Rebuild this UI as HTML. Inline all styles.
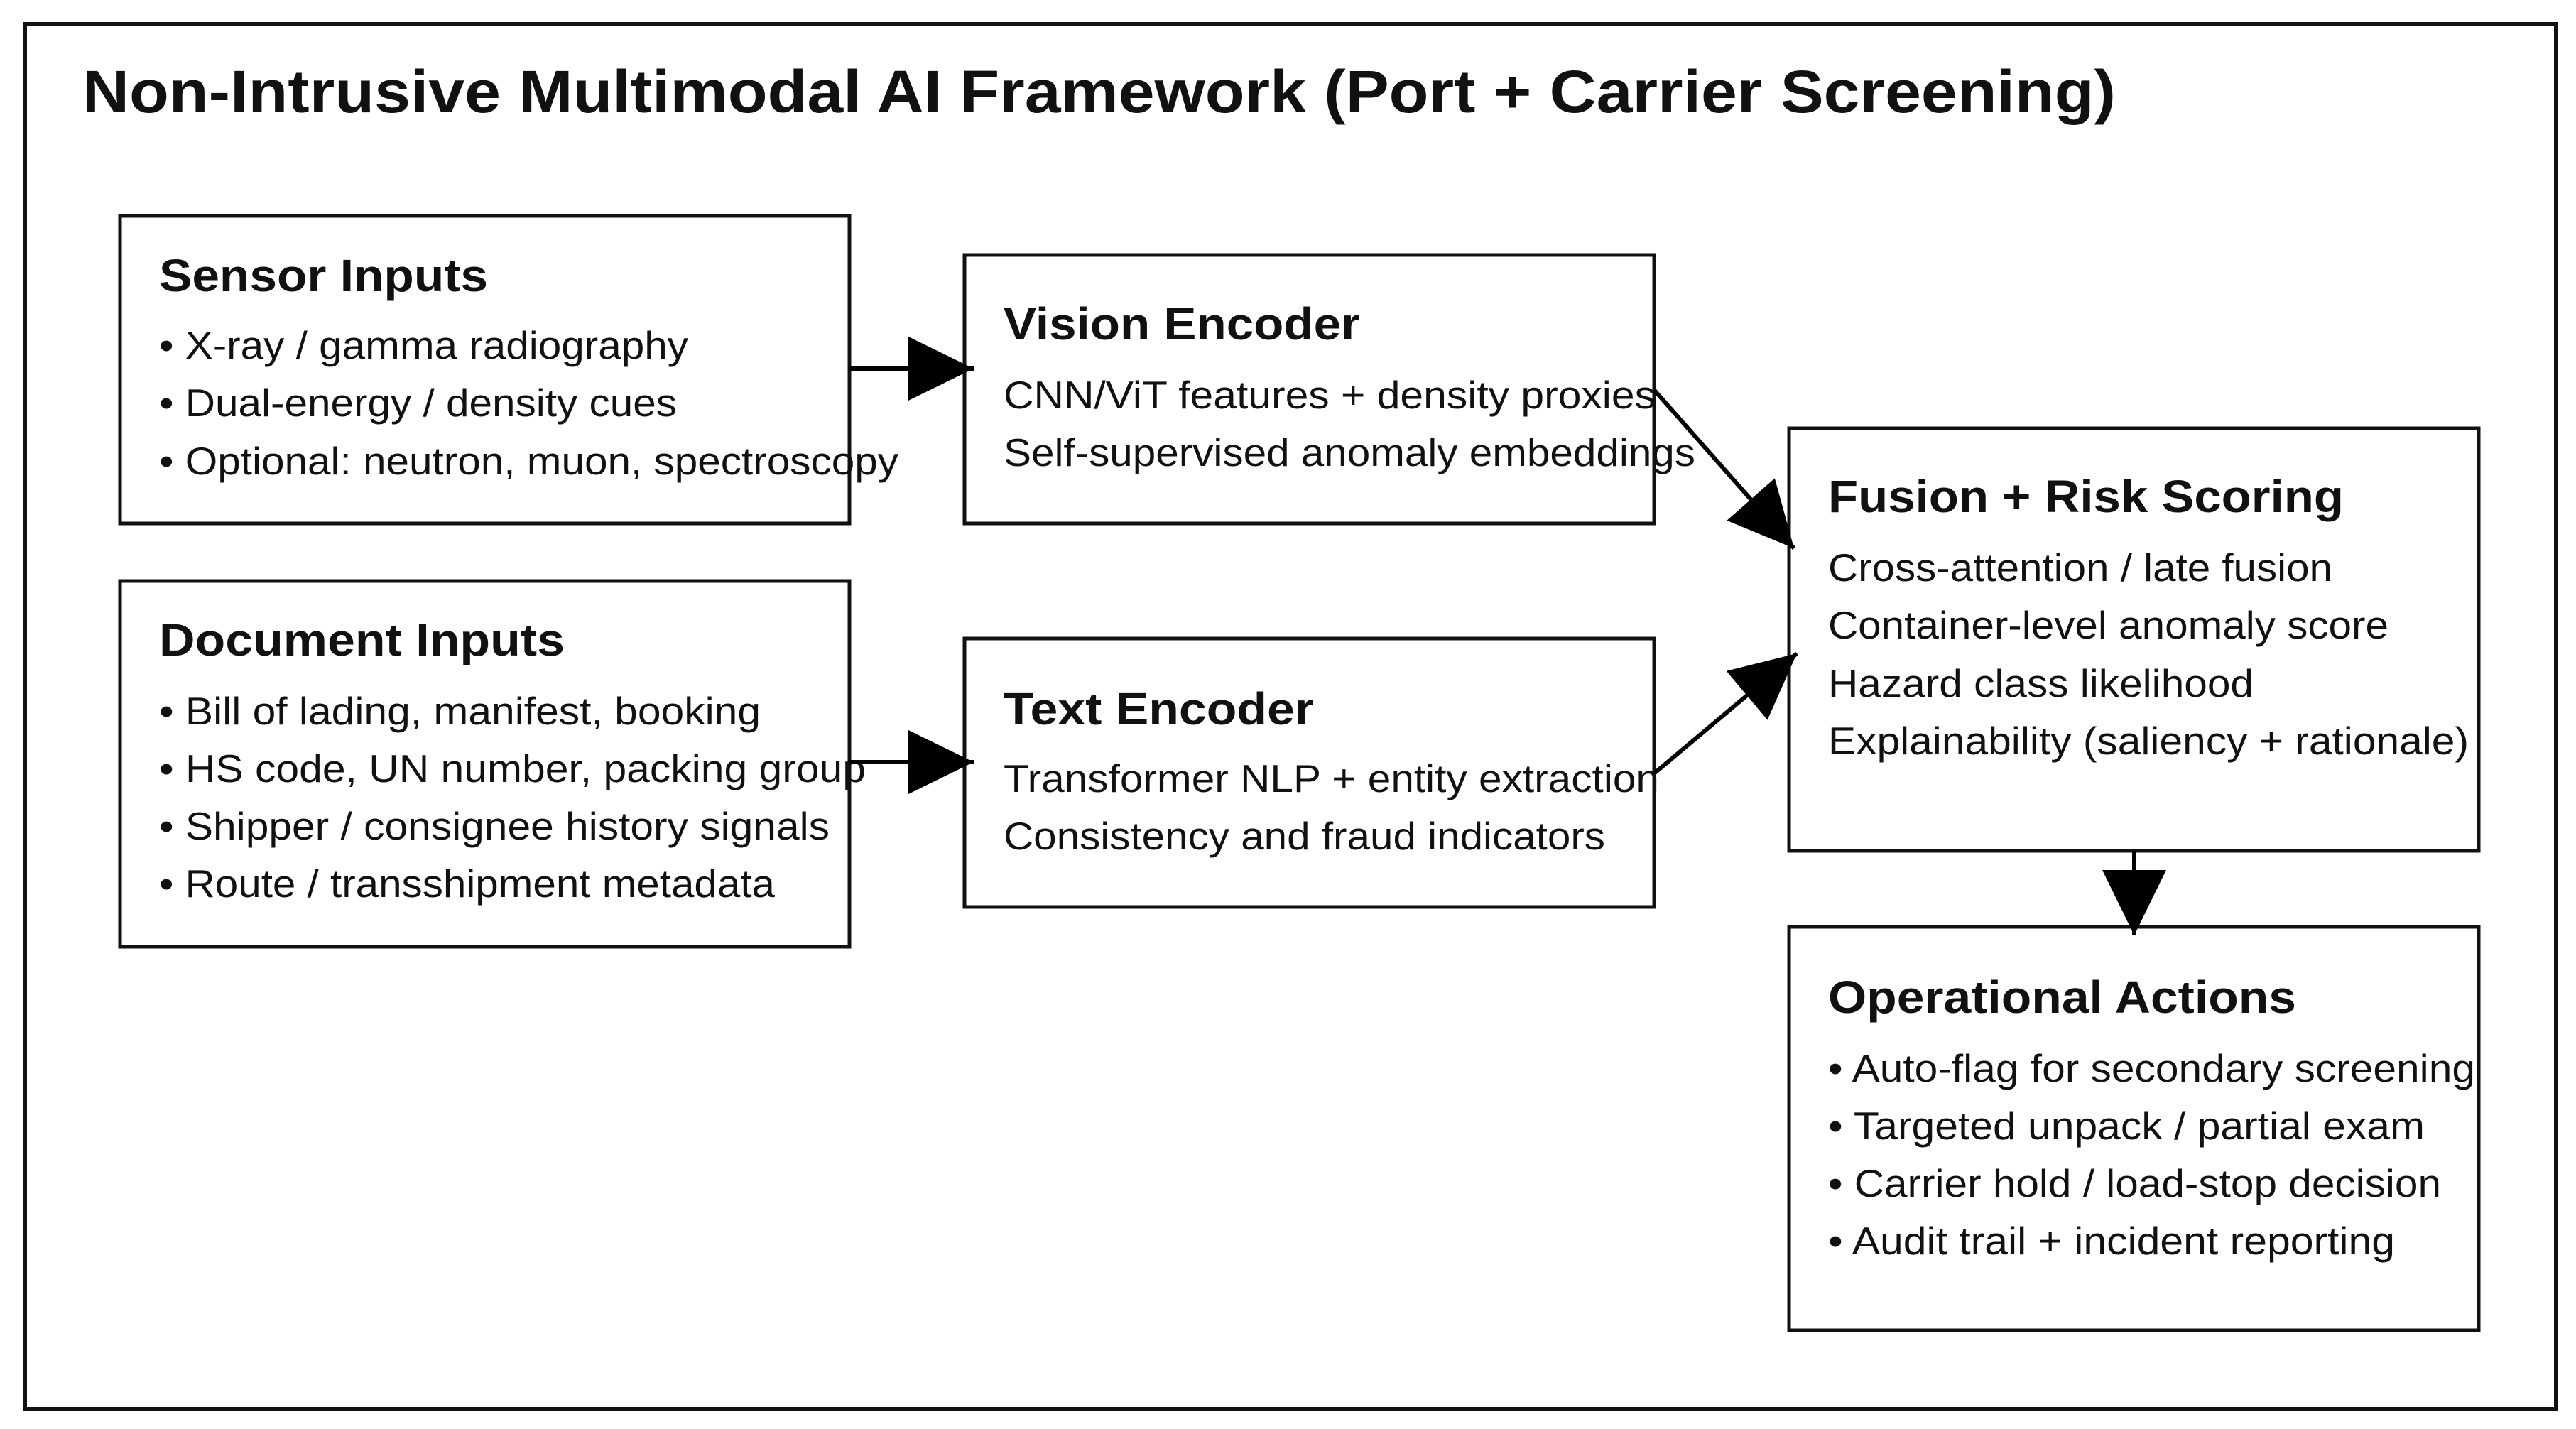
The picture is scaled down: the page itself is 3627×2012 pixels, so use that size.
<!DOCTYPE html>
<html><head><meta charset="utf-8"><style>
html,body{margin:0;padding:0;background:#fff;}
svg{display:block;}
text{font-family:"Liberation Sans",Arial,sans-serif;fill:#111;}
.h{font-weight:bold;font-size:64px;}
.b{font-size:55px;}
</style></head><body>
<svg width="3627" height="2012" viewBox="0 0 3627 2012" xmlns="http://www.w3.org/2000/svg">
<defs>
<marker id="a" markerUnits="userSpaceOnUse" markerWidth="92" markerHeight="90" refX="92" refY="45" orient="auto">
<path d="M0,0 L92,45 L0,90 Z" fill="#000"/>
</marker>
</defs>
<rect x="35" y="34" width="3564" height="1950" fill="#fff" stroke="#111" stroke-width="6"/>
<text x="116" y="158" font-weight="bold" font-size="84" textLength="2863" lengthAdjust="spacingAndGlyphs">Non-Intrusive Multimodal AI Framework (Port + Carrier Screening)</text>

<g fill="none" stroke="#111" stroke-width="5">
<rect x="169" y="304" width="1027" height="433"/>
<rect x="169" y="818" width="1027" height="515"/>
<rect x="1358" y="359" width="971" height="378"/>
<rect x="1358" y="899" width="971" height="378"/>
<rect x="2519" y="603" width="971" height="595"/>
<rect x="2519" y="1305" width="971" height="568"/>
</g>

<text class="h" x="224" y="410" textLength="463" lengthAdjust="spacingAndGlyphs">Sensor Inputs</text>
<text class="b" x="224" y="505" textLength="745" lengthAdjust="spacingAndGlyphs">• X-ray / gamma radiography</text>
<text class="b" x="224" y="586" textLength="729" lengthAdjust="spacingAndGlyphs">• Dual-energy / density cues</text>
<text class="b" x="224" y="668" textLength="1041" lengthAdjust="spacingAndGlyphs">• Optional: neutron, muon, spectroscopy</text>

<text class="h" x="224" y="923" textLength="571" lengthAdjust="spacingAndGlyphs">Document Inputs</text>
<text class="b" x="224" y="1020" textLength="847" lengthAdjust="spacingAndGlyphs">• Bill of lading, manifest, booking</text>
<text class="b" x="224" y="1101" textLength="995" lengthAdjust="spacingAndGlyphs">• HS code, UN number, packing group</text>
<text class="b" x="224" y="1182" textLength="944" lengthAdjust="spacingAndGlyphs">• Shipper / consignee history signals</text>
<text class="b" x="224" y="1263" textLength="867" lengthAdjust="spacingAndGlyphs">• Route / transshipment metadata</text>

<text class="h" x="1413" y="478" textLength="502" lengthAdjust="spacingAndGlyphs">Vision Encoder</text>
<text class="b" x="1413" y="575" textLength="918" lengthAdjust="spacingAndGlyphs">CNN/ViT features + density proxies</text>
<text class="b" x="1413" y="656" textLength="974" lengthAdjust="spacingAndGlyphs">Self-supervised anomaly embeddings</text>

<text class="h" x="1413" y="1020" textLength="437" lengthAdjust="spacingAndGlyphs">Text Encoder</text>
<text class="b" x="1413" y="1115" textLength="923" lengthAdjust="spacingAndGlyphs">Transformer NLP + entity extraction</text>
<text class="b" x="1413" y="1196" textLength="847" lengthAdjust="spacingAndGlyphs">Consistency and fraud indicators</text>

<text class="h" x="2574" y="721" textLength="726" lengthAdjust="spacingAndGlyphs">Fusion + Risk Scoring</text>
<text class="b" x="2574" y="818" textLength="710" lengthAdjust="spacingAndGlyphs">Cross-attention / late fusion</text>
<text class="b" x="2574" y="899" textLength="789" lengthAdjust="spacingAndGlyphs">Container-level anomaly score</text>
<text class="b" x="2574" y="981" textLength="599" lengthAdjust="spacingAndGlyphs">Hazard class likelihood</text>
<text class="b" x="2574" y="1062" textLength="902" lengthAdjust="spacingAndGlyphs">Explainability (saliency + rationale)</text>

<text class="h" x="2574" y="1426" textLength="659" lengthAdjust="spacingAndGlyphs">Operational Actions</text>
<text class="b" x="2574" y="1523" textLength="911" lengthAdjust="spacingAndGlyphs">• Auto-flag for secondary screening</text>
<text class="b" x="2574" y="1604" textLength="840" lengthAdjust="spacingAndGlyphs">• Targeted unpack / partial exam</text>
<text class="b" x="2574" y="1685" textLength="863" lengthAdjust="spacingAndGlyphs">• Carrier hold / load-stop decision</text>
<text class="b" x="2574" y="1766" textLength="798" lengthAdjust="spacingAndGlyphs">• Audit trail + incident reporting</text>

<g stroke="#000" stroke-width="6" fill="none">
<line x1="1196" y1="519" x2="1371" y2="519" marker-end="url(#a)"/>
<line x1="1196" y1="1073" x2="1371" y2="1073" marker-end="url(#a)"/>
<line x1="2329" y1="549" x2="2526" y2="772" marker-end="url(#a)"/>
<line x1="2329" y1="1089" x2="2530" y2="920" marker-end="url(#a)"/>
<line x1="3005" y1="1198" x2="3005" y2="1317" marker-end="url(#a)"/>
</g>
</svg>
</body></html>
